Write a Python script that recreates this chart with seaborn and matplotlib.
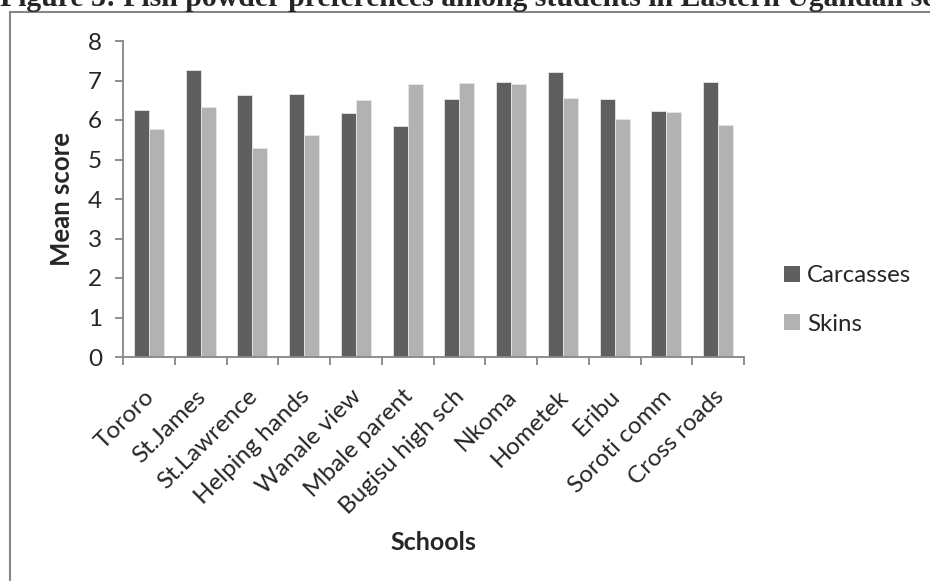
import numpy as np
import pandas as pd
import matplotlib
matplotlib.use("Agg")
import matplotlib.pyplot as plt
import matplotlib.transforms as mtransforms
from matplotlib.patches import Patch, Rectangle
import seaborn as sns

# data
schools = ["Tororo", "St.James", "St.Lawrence", "Helping hands", "Wanale view",
           "Mbale parent", "Bugisu high sch", "Nkoma", "Hometek", "Eribu",
           "Soroti comm", "Cross roads"]
carcasses = [6.26, 7.26, 6.63, 6.66, 6.17, 5.85, 6.54, 6.95, 7.21, 6.53, 6.24, 6.97]
skins = [5.76, 6.34, 5.28, 5.62, 6.51, 6.91, 6.94, 6.91, 6.56, 6.03, 6.20, 5.87]
y_ticks = [0, 1, 2, 3, 4, 5, 6, 7, 8]

df = pd.DataFrame({
    "school": schools * 2,
    "score": carcasses + skins,
    "type": ["Carcasses"] * len(schools) + ["Skins"] * len(schools),
})
colors = {"Carcasses": "#5f5f5f", "Skins": "#b2b2b2"}

sns.set_style("white")
plt.rcParams["font.family"] = ["Lato", "DejaVu Sans"]
axis_grey = "#868686"

fig = plt.figure(figsize=(9.3, 5.81), dpi=100)
ax = fig.add_axes([123 / 930, 1 - 357 / 581, (744 - 123) / 930, (357 - 41) / 581])

sns.barplot(data=df, x="school", y="score", hue="type", palette=colors,
            width=0.58, edgecolor="#e6e6e6", linewidth=0.6, ax=ax, legend=False)

ax.set_ylim(0, 8)
ax.set_xlim(-0.5, len(schools) - 0.5)
ax.set_yticks(y_ticks)
ax.set_yticklabels([str(t) for t in y_ticks], fontsize=17.5)

# category labels, rotated like the spreadsheet original
ax.set_xticks(range(len(schools)))
ax.set_xticklabels(schools, fontsize=17.5, rotation=45, ha="right",
                   va="center", rotation_mode="anchor")
ax.tick_params(axis="x", which="major", length=0, pad=26)
offset = mtransforms.ScaledTranslation(2 / 100, 0, fig.dpi_scale_trans)
for lbl in ax.get_xticklabels():
    lbl.set_transform(lbl.get_transform() + offset)

# tick marks sit between categories
ax.set_xticks(np.arange(-0.5, len(schools), 1.0), minor=True)
ax.tick_params(axis="x", which="minor", length=6, width=1.3, color=axis_grey,
               direction="out", bottom=True)
ax.tick_params(axis="y", length=6, width=1.3, color=axis_grey, direction="out",
               pad=9, left=True)

for side in ["top", "right"]:
    ax.spines[side].set_visible(False)
for side in ["left", "bottom"]:
    ax.spines[side].set_color(axis_grey)
    ax.spines[side].set_linewidth(1.3)

ax.set_ylabel("Mean score", fontsize=18.5, fontweight="bold", labelpad=10)
ax.set_xlabel("")
fig.text(433 / 930, 1 - 542 / 581, "Schools", fontsize=18, fontweight="bold",
         ha="center", va="center")

handles = [Patch(facecolor=colors[k], edgecolor="none") for k in ["Carcasses", "Skins"]]
fig.legend(handles, ["Carcasses", "Skins"], loc="center left",
           bbox_to_anchor=(784 / 930, 1 - 300 / 581), frameon=False, fontsize=17.3,
           handlelength=0.65, handleheight=0.65, handletextpad=0.3, labelspacing=1.15,
           borderaxespad=0, borderpad=0)

# outer chart box, running past the right and bottom edges of the crop
fig.patches.append(Rectangle((10 / 930, -0.2), 1.2, 1 - 12 / 581 + 0.2,
                             transform=fig.transFigure, fill=False,
                             edgecolor=axis_grey, linewidth=1.5))

fig.text(0.0, 1 - 6 / 581, "Figure 3: Fish powder preferences among students in Eastern Ugandan schools",
         family=["Liberation Serif", "DejaVu Serif"], fontweight="bold", fontsize=21.4,
         ha="left", va="baseline")

fig.savefig("out.png", dpi=100, facecolor="white")
